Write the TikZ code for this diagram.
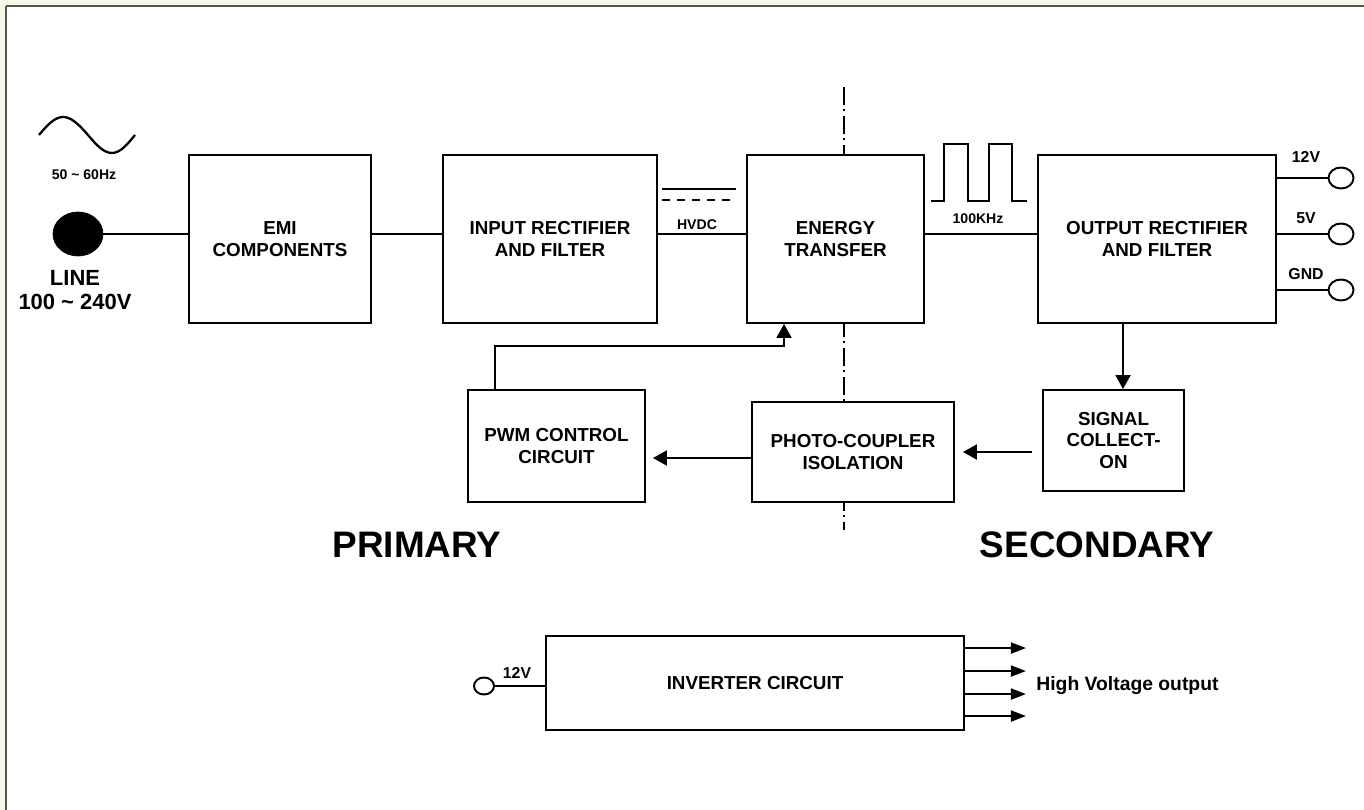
\documentclass[tikz,border=0pt]{standalone}
\usepackage{fontspec}
\setmainfont{Liberation Sans}
\usepackage{xcolor}
\usepackage{tikz}
\usetikzlibrary{calc,positioning,arrows.meta,shapes.geometric}

\definecolor{pagegreen}{HTML}{F3FAE6}
\definecolor{framegrey}{HTML}{555555}

\begin{document}
\begin{tikzpicture}[x=0.02cm,y=-0.02cm,
    blk/.style={draw, fill=white, line width=1.1pt, inner sep=0pt, align=center,
      font=\bfseries\fontsize{10.7}{12.5}\selectfont},
    wire/.style={line width=1.1pt},
    arr/.style={line width=1.1pt, -{Triangle[length=0.28cm,width=0.3cm]}},
    arrsmall/.style={line width=1.1pt, -{Triangle[length=0.3cm,width=0.22cm]}},
    term/.style={ellipse, draw, fill=white, line width=1.1pt, inner sep=0pt,
      minimum width=0.5cm, minimum height=0.42cm},
    lbl/.style={inner sep=0pt, font=\bfseries\fontsize{9}{11}\selectfont},
    tiny/.style={inner sep=0pt, font=\bfseries\fontsize{8}{9}\selectfont},
    side/.style={inner sep=0pt, font=\bfseries\fontsize{21}{25}\selectfont},
    sepline/.style={line width=0.8pt, dash pattern=on 0.36cm off 0.09cm on 0.04cm off 0.09cm}]

       \useasboundingbox (0,0) rectangle (1364,810);
       \fill[pagegreen] (0,0) rectangle (1364,810);
       \fill[white] (6,6) rectangle (1364,810);
       \draw[framegrey, line width=0.6pt] (6,810) -- (6,6);
       \draw[framegrey, line width=1.2pt] (6,6) -- (1364,6);

       % primary / secondary border
       \draw[sepline] (844,87) -- (844,530);

       % top row
       \node[blk, minimum width=3.64cm, minimum height=3.36cm] (emi) at (280,239) {EMI\\COMPONENTS};
       \node[blk, minimum width=4.28cm, minimum height=3.36cm] (in) at (550,239) {INPUT RECTIFIER\\AND FILTER};
       \node[blk, minimum width=3.54cm, minimum height=3.36cm] (et) at (835.5,239) {ENERGY\\TRANSFER};
       \node[blk, minimum width=4.76cm, minimum height=3.36cm] (out) at (1157,239) {OUTPUT RECTIFIER\\AND FILTER};

       % feedback row
       \node[blk, minimum width=3.54cm, minimum height=2.24cm] (pwm) at (556.5,446) {PWM CONTROL\\CIRCUIT};
       \node[blk, minimum width=4.04cm, minimum height=2.0cm] (pc) at (853,452) {PHOTO-COUPLER\\ISOLATION};
       \node[blk, minimum width=2.82cm, minimum height=2.02cm] (sig) at (1113.5,440.5) {SIGNAL\\COLLECT-\\ON};

       % mains input
       \draw[line width=1.3pt] (39,135) sin (63,117) cos (88,135) sin (112,153) cos (135,135);
       \node[tiny] (freq) at (84,175) {50 \textasciitilde{} 60Hz};
       \node[ellipse, draw, fill=black, inner sep=0pt, minimum width=1.0cm, minimum height=0.88cm] (line) at (78,234) {};
       \node[inner sep=0pt, align=center, font=\bfseries\fontsize{12.5}{13.6}\selectfont] (linelbl) at (75,290) {LINE\\100 \textasciitilde{} 240V};

       \coordinate (bus) at (0,234);
       \draw[wire] (line.east |- bus) -- (emi.west |- bus);
       \draw[wire] (emi.east |- bus) -- (in.west |- bus);
       \draw[wire] (in.east |- bus) -- (et.west |- bus);
       \draw[wire] (et.east |- bus) -- (out.west |- bus);

       % dc symbol
       \draw[wire] (662,189) -- (736,189);
       \draw[wire, dash pattern=on 0.16cm off 0.14cm] (662,200) -- (736,200);
       \node[inner sep=0pt, font=\bfseries\fontsize{8}{10}\selectfont] (hvdc) at (697,225) {HVDC};

       % square wave
       \draw[wire] (931,201) -- (944,201) -- (944,144) -- (968,144) -- (968,201) -- (989,201)
                   -- (989,144) -- (1012,144) -- (1012,201) -- (1027,201);
       \node[inner sep=0pt, font=\bfseries\fontsize{8}{10}\selectfont] (khz) at (978,219) {100KHz};

       % outputs
       \foreach \yy/\vv/\ly [count=\i] in {178/12V/157, 234/5V/218, 290/GND/274} {
         \node[term] (t\i) at (1341,\yy) {};
         \draw[wire] (out.east |- t\i) -- (t\i.west);
         \node[lbl] (v\i) at (1306,\ly) {\vv};
       }

       % feedback loop
       \coordinate (tap) at (1123,0);
       \draw[arr] (out.south -| tap) -- (sig.north -| tap);
       \draw[arr, shorten <=0.2cm, shorten >=0.16cm] (sig.west |- pc.east) -- (pc.east);
       \coordinate (pcw) at ($(pc.west)+(0,6)$);
       \draw[arr, shorten >=0.14cm] (pcw) -- (pcw -| pwm.east);
       \coordinate (fb) at (784,346);
       \draw[arr] ($(pwm.north west)+(28,0)$) |- (fb) -- (fb |- et.south);

       \node[side] (prim) at (417,545) {PRIMARY};
       \node[side] (sec) at (1097,545) {SECONDARY};

       % inverter
       \node[blk, minimum width=8.36cm, minimum height=1.88cm] (inv) at (755,683) {INVERTER CIRCUIT};
       \node[ellipse, draw, fill=white, line width=1.1pt, inner sep=0pt, minimum width=0.4cm, minimum height=0.34cm] (vin) at (484,686) {};
       \draw[wire] (vin.east) -- (vin.east -| inv.west);
       \node[lbl] (vinlbl) at (517,673) {12V};
       \foreach \dy in {13,36,59,81}
         \draw[arrsmall] ($(inv.north east)+(0,\dy)$) -- ++(61,0);
       \node[inner sep=0pt, anchor=west, font=\bfseries\fontsize{11}{12}\selectfont] (hv) at (1036,686) {High Voltage output};
\end{tikzpicture}
\end{document}
